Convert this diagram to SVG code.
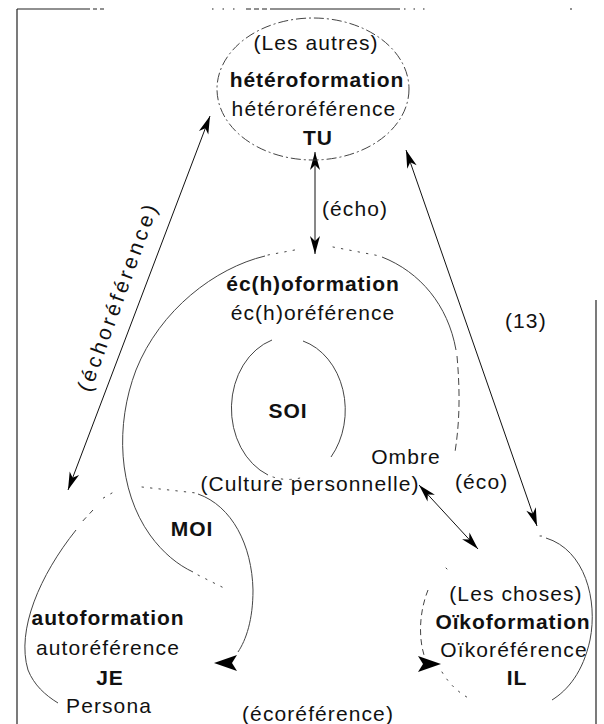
<svg xmlns="http://www.w3.org/2000/svg" width="604" height="724" viewBox="0 0 604 724">
<defs>
<style>
text{font-family:"Liberation Sans",Arial,Helvetica,sans-serif;font-size:21px;fill:#111;letter-spacing:1.1px;text-anchor:middle}
.b{font-weight:bold;letter-spacing:0.9px}
.st{text-anchor:start}
.fr{stroke:#222;stroke-width:1.2;fill:none}
.arc{stroke:#444;stroke-width:1;fill:none}
.dash{stroke-dasharray:7 4}
.dot{stroke-dasharray:1.5 7;stroke-linecap:round}
.con{stroke:#111;stroke-width:1;fill:none;marker-start:url(#ah);marker-end:url(#ah)}
.head{fill:#000}
</style>
<marker id="ah" viewBox="-19 -6 21 12" refX="0" refY="0" markerWidth="21" markerHeight="12" markerUnits="userSpaceOnUse" orient="auto-start-reverse">
<path d="M0,0 L-18,-5 L-13,0 L-18,5 Z" fill="#000"/>
</marker>
</defs>
<rect width="604" height="724" fill="#fff"/>

<g id="frame">
<path class="fr" d="M17 9 L17 724"/>
<path class="fr" d="M17 9 L90 9"/>
<path class="fr" d="M93 9 L106 9" stroke-dasharray="4 3"/>
<path class="fr" d="M212 9 L238 9" stroke-dasharray="1.5 9"/>
<path class="fr" d="M246 9 L270 9" stroke-dasharray="5 3"/>
<path class="fr" d="M270 9 L400 9"/>
<path class="fr" d="M404 9 L428 9" stroke-dasharray="1.5 8"/>
<path class="fr" d="M570 9 L572 9"/>
<path class="fr" d="M596 300 L596 724"/>
</g>

<g id="connectors">
<path class="con" d="M210 116 L68 490"/>
<path class="con" d="M315 152 L315 254"/>
<path class="con" d="M406 150 L537 526"/>
<path class="con" d="M419 485 L478 549"/>
<polygon class="head" points="214,663 237,655 232,663 237,671"/>
<polygon class="head" points="441,664 418,656 423,664 418,672"/>
<text class="st" x="322" y="216">(écho)</text>
<text x="124" y="300" transform="rotate(-70 124 300)" textLength="198" lengthAdjust="spacing">(échoréférence)</text>
<text class="st" x="505" y="328">(13)</text>
<text class="st" x="455" y="489">(éco)</text>
<text x="318" y="721">(écoréférence)</text>
</g>

<g id="heteroformation">
<ellipse cx="313" cy="89" rx="96" ry="71" fill="none" stroke="#444" stroke-width="1" stroke-dasharray="10 3 2 3"/>
<text x="316" y="50">(Les autres)</text>
<text class="b" x="317" y="87">hétéroformation</text>
<text x="314" y="116">hétéroréférence</text>
<text class="b" x="318" y="145">TU</text>
</g>

<g id="echoformation">
<path class="arc" d="M265 256 C215 268 160 310 136 370 C115 425 118 490 150 535 C163 553 178 565 193 572"/>
<path class="arc dot" d="M198 575 L228 590"/>
<path class="arc dot" d="M268 255 L300 249"/>
<path class="arc dot" d="M333 247 L380 256"/>
<path class="arc" d="M382 257 C420 272 448 305 456 350"/>
<path class="arc dash" d="M457 356 C460 390 460 420 455 452"/>
<text class="b" x="313" y="291">éc(h)oformation</text>
<text x="313" y="320">éc(h)oréférence</text>
<text x="406" y="464">Ombre</text>
<text x="310" y="491">(Culture personnelle)</text>
</g>

<g id="soi">
<path class="arc" d="M272 340 A59 72 0 0 0 268 475"/>
<path class="arc dot" d="M273 477 A59 72 0 0 0 300 478"/>
<path class="arc" d="M303 341 A59 72 0 0 1 331 457"/>
<text class="b" x="288" y="418">SOI</text>
</g>

<g id="moi">
<path class="arc dot" d="M142 487 L196 493"/>
<path class="arc" d="M198 494 C232 506 252 545 253 590 C253 620 246 640 238 652"/>
<text class="b" x="192" y="536">MOI</text>
</g>

<g id="autoformation">
<path class="arc dot" d="M112 493 L100 500"/>
<path class="arc" d="M93 510 L80 524" stroke-dasharray="5 5"/>
<path class="arc" d="M76 530 C40 575 16 630 28 670 C34 685 45 695 58 703"/>
<text class="b" x="108" y="625">autoformation</text>
<text x="108" y="655">autoréférence</text>
<text class="b" x="110" y="685">JE</text>
<text x="109" y="713">Persona</text>
</g>

<g id="oikoformation">
<path class="arc dot" d="M540 536 L542 536"/>
<path class="arc" d="M546 538 C585 550 598 600 590 640 C583 672 568 690 552 700"/>
<path class="arc dot" d="M446 568 L447 569"/>
<path class="arc" d="M428 590 C420 610 418 635 424 655" stroke-dasharray="6 4"/>
<path class="arc dot" d="M442 672 C450 685 458 692 470 699"/>
<text x="516" y="601">(Les choses)</text>
<text class="b" x="513" y="629">Oïkoformation</text>
<text x="514" y="657">Oïkoréférence</text>
<text class="b" x="517" y="685">IL</text>
</g>
</svg>
